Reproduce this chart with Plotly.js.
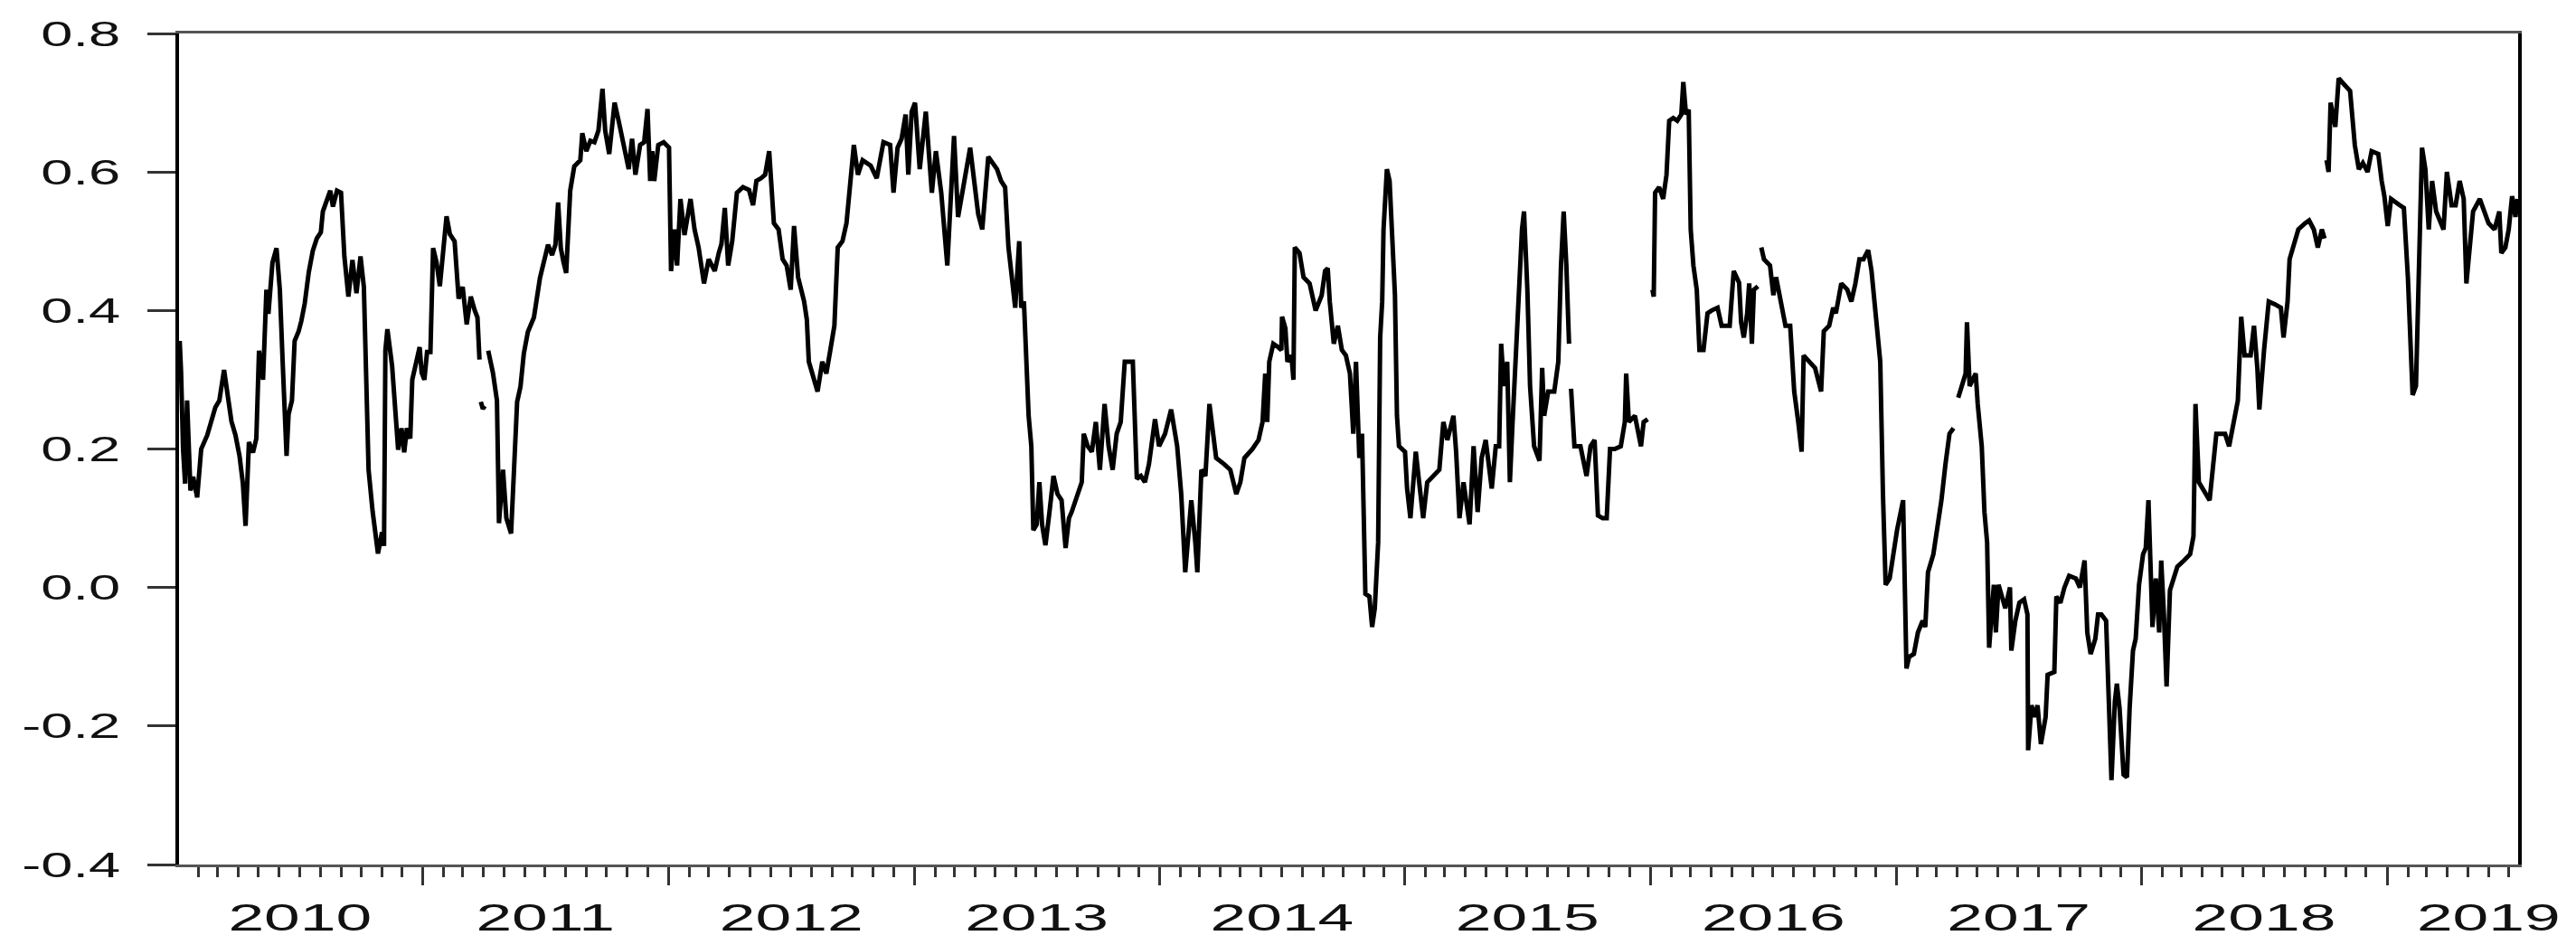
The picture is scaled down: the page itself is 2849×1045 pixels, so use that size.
<!DOCTYPE html>
<html>
<head>
<meta charset="utf-8">
<script src="https://cdn.plot.ly/plotly-3.0.1.min.js"></script>
<style>
html,body{margin:0;padding:0;background:#ffffff;}
#chart{width:2849px;height:1045px;}
</style>
</head>
<body>
<div id="chart"></div>
<script>
// ---- data: [date, value]; null marks a missing observation (gap in the line) ----
const obs2010 = [
["2010-01-04",0.356],["2010-01-06",0.312],["2010-01-09",0.200],["2010-01-12",0.150],["2010-01-15",0.270],
["2010-01-20",0.140],["2010-01-24",0.160],["2010-01-30",0.130],["2010-02-05",0.200],["2010-02-14",0.220],
["2010-02-26",0.260],["2010-03-04",0.270],["2010-03-11",0.314],["2010-03-16",0.280],["2010-03-22",0.240],
["2010-03-28",0.220],["2010-04-03",0.190],["2010-04-08",0.150],["2010-04-12",0.089],["2010-04-17",0.210],
["2010-04-23",0.195],["2010-04-28",0.215],["2010-05-02",0.342],["2010-05-08",0.300],["2010-05-13",0.430],
["2010-05-16",0.395],["2010-05-22",0.469],["2010-05-28",0.490],["2010-06-02",0.430],["2010-06-06",0.330],
["2010-06-09",0.273],["2010-06-12",0.190],["2010-06-15",0.250],["2010-06-20",0.270],["2010-06-24",0.356],
["2010-06-30",0.370],["2010-07-04",0.385],["2010-07-09",0.410],["2010-07-15",0.455],["2010-07-21",0.486],
["2010-07-27",0.504],["2010-08-02",0.513],["2010-08-05",0.543],["2010-08-11",0.560],["2010-08-16",0.573],
["2010-08-20",0.550],["2010-08-26",0.573],["2010-09-01",0.570],["2010-09-06",0.478],["2010-09-12",0.420],
["2010-09-18",0.473],["2010-09-24",0.425],["2010-09-30",0.478],["2010-10-05",0.434],["2010-10-09",0.260],
["2010-10-12",0.170],["2010-10-18",0.110],["2010-10-26",0.049],["2010-11-01",0.080],["2010-11-04",0.060],
["2010-11-06",0.342],["2010-11-09",0.373],["2010-11-16",0.320],["2010-11-21",0.240],["2010-11-25",0.199],
["2010-11-30",0.230],["2010-12-04",0.195],["2010-12-08",0.230],["2010-12-13",0.215],["2010-12-16",0.300],
["2010-12-22",0.330],["2010-12-27",0.347],["2010-12-30",0.310]
];
const obs2011 = [
["2011-01-03",0.300],["2011-01-07",0.340],["2011-01-12",0.340],["2011-01-16",0.490],["2011-01-21",0.470],
["2011-01-26",0.435],["2011-01-30",0.480],["2011-02-05",0.536],["2011-02-10",0.510],["2011-02-17",0.500],
["2011-02-23",0.417],["2011-03-01",0.434],["2011-03-07",0.380],["2011-03-13",0.420],["2011-03-19",0.400],
["2011-03-23",0.390],["2011-03-26",0.329],["2011-03-27",null],["2011-03-28",0.268],["2011-03-31",0.258],
["2011-04-03",0.262],["2011-04-05",null],["2011-04-08",0.342],["2011-04-15",0.310],["2011-04-21",0.270],
["2011-04-24",0.093],["2011-04-30",0.170],["2011-05-05",0.100],["2011-05-12",0.078],["2011-05-17",0.200],
["2011-05-21",0.268],["2011-05-26",0.290],["2011-05-31",0.338],["2011-06-06",0.369],["2011-06-15",0.390],
["2011-06-24",0.447],["2011-06-30",0.473],["2011-07-06",0.495],["2011-07-12",0.480],["2011-07-17",0.495],
["2011-07-21",0.556],["2011-07-25",0.490],["2011-07-29",0.470],["2011-08-02",0.454],["2011-08-08",0.573],
["2011-08-14",0.608],["2011-08-23",0.617],["2011-08-26",0.656],["2011-09-01",0.630],["2011-09-07",0.645],
["2011-09-13",0.643],["2011-09-19",0.660],["2011-09-25",0.720],["2011-09-29",0.660],["2011-10-05",0.626],
["2011-10-10",0.680],["2011-10-13",0.700],["2011-10-19",0.674],["2011-10-27",0.640],["2011-11-03",0.604],
["2011-11-08",0.648],["2011-11-13",0.596],["2011-11-20",0.639],["2011-11-26",0.643],["2011-12-01",0.691],
["2011-12-05",0.587],["2011-12-08",0.630],["2011-12-11",0.587],["2011-12-17",0.639],["2011-12-25",0.643]
];
const obs2012 = [
["2012-01-02",0.635],["2012-01-05",0.457],["2012-01-10",0.517],["2012-01-14",0.465],["2012-01-19",0.561],
["2012-01-25",0.509],["2012-02-03",0.561],["2012-02-09",0.517],["2012-02-15",0.491],["2012-02-23",0.439],
["2012-03-01",0.474],["2012-03-10",0.457],["2012-03-16",0.483],["2012-03-20",0.496],["2012-03-25",0.548],
["2012-03-30",0.465],["2012-04-05",0.500],["2012-04-12",0.570],["2012-04-21",0.578],["2012-04-30",0.574],
["2012-05-06",0.552],["2012-05-11",0.587],["2012-05-18",0.591],["2012-05-24",0.596],["2012-05-30",0.630],
["2012-06-06",0.526],["2012-06-13",0.517],["2012-06-19",0.474],["2012-06-25",0.465],["2012-07-01",0.430],
["2012-07-06",0.522],["2012-07-12",0.448],["2012-07-21",0.413],["2012-07-25",0.387],["2012-07-28",0.326],
["2012-08-04",0.300],["2012-08-10",0.283],["2012-08-17",0.326],["2012-08-23",0.309],["2012-08-29",0.343],
["2012-09-04",0.378],["2012-09-09",0.491],["2012-09-16",0.500],["2012-09-22",0.526],["2012-09-28",0.596],
["2012-10-03",0.639],["2012-10-09",0.596],["2012-10-16",0.617],["2012-10-28",0.609],["2012-11-06",0.591],
["2012-11-16",0.643],["2012-11-26",0.639],["2012-12-01",0.570],["2012-12-07",0.635],["2012-12-13",0.648],
["2012-12-19",0.683],["2012-12-23",0.596],["2012-12-28",0.687]
];
const obs2013 = [
["2013-01-02",0.700],["2013-01-09",0.604],["2013-01-18",0.687],["2013-01-27",0.570],["2013-02-02",0.630],
["2013-02-10",0.570],["2013-02-19",0.465],["2013-02-23",0.535],["2013-03-01",0.652],["2013-03-07",0.535],
["2013-03-16",0.587],["2013-03-25",0.635],["2013-03-31",0.587],["2013-04-06",0.539],["2013-04-12",0.517],
["2013-04-21",0.622],["2013-05-04",0.604],["2013-05-10",0.587],["2013-05-16",0.578],["2013-05-21",0.491],
["2013-05-25",0.457],["2013-05-31",0.404],["2013-06-06",0.500],["2013-06-09",0.404],["2013-06-13",0.413],
["2013-06-16",0.326],["2013-06-20",0.248],["2013-06-24",0.204],["2013-06-27",0.083],["2013-07-02",0.091],
["2013-07-06",0.152],["2013-07-10",0.091],["2013-07-15",0.061],["2013-07-21",0.109],["2013-07-27",0.161],
["2013-08-02",0.135],["2013-08-08",0.126],["2013-08-14",0.057],["2013-08-19",0.100],["2013-08-23",0.109],
["2013-09-01",0.135],["2013-09-07",0.152],["2013-09-10",0.222],["2013-09-16",0.204],["2013-09-22",0.196],
["2013-09-28",0.239],["2013-10-04",0.170],["2013-10-11",0.265],["2013-10-17",0.204],["2013-10-23",0.170],
["2013-10-29",0.222],["2013-11-04",0.239],["2013-11-10",0.326],["2013-11-22",0.326],["2013-11-28",0.157],
["2013-12-04",0.161],["2013-12-10",0.152],["2013-12-16",0.178],["2013-12-25",0.243],["2013-12-31",0.204]
];
const obs2014 = [
["2014-01-09",0.222],["2014-01-18",0.257],["2014-01-27",0.204],["2014-02-02",0.135],["2014-02-08",0.022],
["2014-02-12",0.065],["2014-02-17",0.126],["2014-02-23",0.065],["2014-02-26",0.022],["2014-03-04",0.170],
["2014-03-10",0.161],["2014-03-16",0.265],["2014-03-21",0.222],["2014-03-26",0.187],["2014-04-07",0.178],
["2014-04-16",0.170],["2014-04-25",0.135],["2014-05-01",0.152],["2014-05-07",0.187],["2014-05-19",0.200],
["2014-05-28",0.213],["2014-06-03",0.239],["2014-06-07",0.309],["2014-06-10",0.239],["2014-06-13",0.326],
["2014-06-19",0.352],["2014-06-25",0.348],["2014-07-01",0.343],["2014-07-02",0.391],["2014-07-07",0.374],
["2014-07-10",0.326],["2014-07-16",0.335],["2014-07-19",0.300],["2014-07-21",0.491],["2014-07-28",0.483],
["2014-08-03",0.448],["2014-08-12",0.439],["2014-08-21",0.400],["2014-08-30",0.422],["2014-09-04",0.457],
["2014-09-08",0.461],["2014-09-11",0.413],["2014-09-17",0.352],["2014-09-23",0.378],["2014-09-29",0.343],
["2014-10-05",0.335],["2014-10-11",0.309],["2014-10-16",0.222],["2014-10-20",0.326],["2014-10-25",0.187],
["2014-10-29",0.222],["2014-11-03",-0.009],["2014-11-09",-0.013],["2014-11-13",-0.057],["2014-11-17",-0.030],
["2014-11-22",0.065],["2014-11-25",0.361],["2014-11-28",0.413],["2014-11-30",0.517],["2014-12-05",0.604],
["2014-12-09",0.587],["2014-12-13",0.496],["2014-12-17",0.422],["2014-12-20",0.248],["2014-12-23",0.204]
];
const obs2015 = [
["2015-01-01",0.196],["2015-01-04",0.143],["2015-01-09",0.100],["2015-01-13",0.152],["2015-01-17",0.196],
["2015-01-22",0.152],["2015-01-28",0.100],["2015-02-03",0.152],["2015-02-12",0.161],["2015-02-21",0.170],
["2015-02-27",0.239],["2015-03-05",0.213],["2015-03-14",0.248],["2015-03-18",0.196],["2015-03-23",0.100],
["2015-03-29",0.152],["2015-04-07",0.091],["2015-04-13",0.204],["2015-04-19",0.109],["2015-04-25",0.187],
["2015-05-01",0.213],["2015-05-10",0.143],["2015-05-16",0.204],["2015-05-21",0.204],["2015-05-24",0.352],
["2015-05-28",0.291],["2015-06-02",0.326],["2015-06-06",0.152],["2015-06-10",0.239],["2015-06-16",0.370],
["2015-06-20",0.430],["2015-06-24",0.517],["2015-06-27",0.543],["2015-07-02",0.430],["2015-07-06",0.291],
["2015-07-12",0.204],["2015-07-20",0.183],["2015-07-24",0.317],["2015-07-27",0.248],["2015-08-02",0.283],
["2015-08-11",0.283],["2015-08-17",0.326],["2015-08-21",0.465],["2015-08-25",0.543],["2015-08-29",0.465],
["2015-09-02",0.352],["2015-09-03",null],["2015-09-05",0.287],["2015-09-10",0.204],["2015-09-19",0.204],
["2015-09-28",0.161],["2015-10-04",0.204],["2015-10-10",0.213],["2015-10-15",0.104],["2015-10-22",0.100],
["2015-10-28",0.100],["2015-11-02",0.200],["2015-11-09",0.200],["2015-11-18",0.204],["2015-11-24",0.239],
["2015-11-26",0.309],["2015-11-30",0.239],["2015-12-09",0.248],["2015-12-18",0.204],["2015-12-22",0.239],
["2015-12-28",0.243],["2015-12-31",null]
];
const obs2016 = [
["2016-01-04",0.430],["2016-01-06",0.420],["2016-01-08",0.570],["2016-01-14",0.578],["2016-01-20",0.561],
["2016-01-25",0.596],["2016-01-29",0.674],["2016-02-04",0.678],["2016-02-10",0.674],["2016-02-16",0.683],
["2016-02-19",0.730],["2016-02-23",0.683],["2016-02-27",0.690],["2016-03-01",0.517],["2016-03-05",0.465],
["2016-03-10",0.430],["2016-03-14",0.343],["2016-03-20",0.343],["2016-03-26",0.396],["2016-04-01",0.400],
["2016-04-10",0.404],["2016-04-16",0.378],["2016-04-28",0.378],["2016-05-04",0.457],["2016-05-12",0.440],
["2016-05-15",0.383],["2016-05-19",0.361],["2016-05-24",0.396],["2016-05-27",0.439],["2016-05-31",0.352],
["2016-06-03",0.430],["2016-06-09",0.435],["2016-06-11",null],["2016-06-14",0.491],["2016-06-18",0.474],
["2016-06-27",0.465],["2016-07-02",0.422],["2016-07-06",0.448],["2016-07-15",0.404],["2016-07-20",0.378],
["2016-07-27",0.378],["2016-08-02",0.283],["2016-08-08",0.239],["2016-08-13",0.196],["2016-08-16",0.335],
["2016-08-24",0.326],["2016-09-02",0.317],["2016-09-11",0.283],["2016-09-15",0.370],["2016-09-23",0.378],
["2016-09-29",0.404],["2016-10-03",0.396],["2016-10-11",0.439],["2016-10-20",0.430],["2016-10-26",0.413],
["2016-11-01",0.439],["2016-11-07",0.474],["2016-11-13",0.474],["2016-11-20",0.487],["2016-11-25",0.457],
["2016-12-02",0.387],["2016-12-08",0.326],["2016-12-12",0.135],["2016-12-16",0.004],["2016-12-22",0.013],
["2016-12-28",0.057]
];
const obs2017 = [
["2017-01-02",0.083],["2017-01-11",0.126],["2017-01-13",0.030],["2017-01-16",-0.117],["2017-01-20",-0.100],
["2017-01-27",-0.096],["2017-02-02",-0.065],["2017-02-09",-0.048],["2017-02-13",-0.057],["2017-02-17",0.022],
["2017-02-25",0.048],["2017-03-03",0.083],["2017-03-09",0.126],["2017-03-15",0.178],["2017-03-21",0.222],
["2017-03-27",0.230],["2017-03-30",null],["2017-04-03",0.274],["2017-04-09",0.291],["2017-04-14",0.309],
["2017-04-16",0.383],["2017-04-20",0.291],["2017-04-29",0.309],["2017-05-02",0.265],["2017-05-08",0.204],
["2017-05-12",0.109],["2017-05-16",0.065],["2017-05-19",-0.087],["2017-05-26",0.004],["2017-05-29",-0.065],
["2017-06-02",0.004],["2017-06-07",-0.013],["2017-06-12",-0.030],["2017-06-19",0.000],["2017-06-21",-0.091],
["2017-06-27",-0.048],["2017-07-03",-0.022],["2017-07-10",-0.017],["2017-07-15",-0.039],["2017-07-16",-0.235],
["2017-07-21",-0.170],["2017-07-26",-0.187],["2017-07-30",-0.170],["2017-08-04",-0.226],["2017-08-11",-0.187],
["2017-08-14",-0.126],["2017-08-24",-0.122],["2017-08-27",-0.013],["2017-09-02",-0.022],["2017-09-08",0.000],
["2017-09-15",0.017],["2017-09-25",0.013],["2017-10-01",0.000],["2017-10-08",0.039],["2017-10-12",-0.065],
["2017-10-17",-0.096],["2017-10-24",-0.074],["2017-10-28",-0.039],["2017-11-02",-0.039],["2017-11-09",-0.048],
["2017-11-13",-0.161],["2017-11-17",-0.278],["2017-11-22",-0.165],["2017-11-25",-0.139],["2017-11-29",-0.174],
["2017-12-05",-0.270],["2017-12-10",-0.274],["2017-12-14",-0.174],["2017-12-19",-0.091],["2017-12-23",-0.074],
["2017-12-28",0.004]
];
const obs2018 = [
["2018-01-03",0.048],["2018-01-07",0.057],["2018-01-11",0.126],["2018-01-17",-0.057],["2018-01-22",0.013],
["2018-01-27",-0.065],["2018-01-30",0.039],["2018-02-03",-0.039],["2018-02-07",-0.143],["2018-02-12",-0.004],
["2018-02-17",0.013],["2018-02-23",0.030],["2018-03-05",0.039],["2018-03-14",0.048],["2018-03-19",0.074],
["2018-03-22",0.265],["2018-03-27",0.152],["2018-04-02",0.143],["2018-04-12",0.126],["2018-04-22",0.222],
["2018-05-05",0.222],["2018-05-11",0.204],["2018-05-18",0.239],["2018-05-24",0.270],["2018-05-29",0.391],
["2018-06-03",0.335],["2018-06-12",0.335],["2018-06-17",0.378],["2018-06-22",0.317],["2018-06-25",0.257],
["2018-07-02",0.343],["2018-07-09",0.413],["2018-07-18",0.409],["2018-07-27",0.404],["2018-07-31",0.361],
["2018-08-06",0.413],["2018-08-09",0.474],["2018-08-16",0.500],["2018-08-22",0.517],["2018-09-01",0.526],
["2018-09-07",0.530],["2018-09-14",0.517],["2018-09-20",0.491],["2018-09-26",0.517],["2018-09-30",0.504],
["2018-10-01",null],["2018-10-03",0.617],["2018-10-06",0.600],["2018-10-09",0.700],["2018-10-16",0.665],
["2018-10-21",0.735],["2018-10-29",0.726],["2018-11-07",0.717],["2018-11-14",0.639],["2018-11-20",0.604],
["2018-11-26",0.613],["2018-12-03",0.600],["2018-12-09",0.630],["2018-12-19",0.626],["2018-12-24",0.587],
["2018-12-28",0.565]
];
const obs2019 = [
["2019-01-02",0.522],["2019-01-07",0.561],["2019-01-20",0.552],["2019-01-26",0.548],["2019-02-01",0.448],
["2019-02-05",0.326],["2019-02-08",0.278],["2019-02-13",0.291],["2019-02-18",0.500],["2019-02-22",0.635],
["2019-02-27",0.604],["2019-03-04",0.517],["2019-03-09",0.587],["2019-03-15",0.543],["2019-03-26",0.517],
["2019-03-31",0.600],["2019-04-07",0.552],["2019-04-13",0.552],["2019-04-19",0.587],["2019-04-25",0.561],
["2019-04-29",0.439],["2019-05-04",0.500],["2019-05-09",0.543],["2019-05-19",0.561],["2019-05-25",0.543],
["2019-06-01",0.526],["2019-06-10",0.517],["2019-06-17",0.543],["2019-06-20",0.483],["2019-06-26",0.491],
["2019-07-01",0.517],["2019-07-06",0.565],["2019-07-11",0.535],["2019-07-14",0.561]
];

// ---- axes: ticks and labels ----
const yTickVals = [-0.4, -0.2, 0.0, 0.2, 0.4, 0.6, 0.8];
const yTickText = ["-0.4", "-0.2", "0.0", "0.2", "0.4", "0.6", "0.8"];
const yearLabels = ["2010","2011","2012","2013","2014","2015","2016","2017","2018","2019"];
const yearLabelDates = ["2010-07-02","2011-07-02","2012-07-02","2013-07-02","2014-07-02",
                        "2015-07-02","2016-07-02","2017-07-02","2018-07-02","2019-06-01"];
const xRange = ["2010-01-03", "2019-07-15"];
const yRange = [-0.4, 0.8];

// ---- build ----
const series = [].concat(obs2010, obs2011, obs2012, obs2013, obs2014,
                         obs2015, obs2016, obs2017, obs2018, obs2019);
const xs = series.map(p => p[0]);
const ys = series.map(p => p[1]);

const FONT = '"Liberation Sans", Arial, Helvetica, sans-serif';

const traces = [
  {
    x: xs, y: ys, type: 'scatter', mode: 'lines',
    line: {color: '#000000', width: 5},
    connectgaps: false, hoverinfo: 'skip', showlegend: false
  },
  {
    x: yearLabelDates, y: yearLabelDates.map(() => null),
    xaxis: 'x2', yaxis: 'y', type: 'scatter', mode: 'lines',
    hoverinfo: 'skip', showlegend: false
  }
];

const layout = {
  width: 2849, height: 1045,
  margin: {l: 198, r: 64, t: 37, b: 89, pad: 0},
  paper_bgcolor: '#ffffff', plot_bgcolor: '#ffffff',
  showlegend: false,
  font: {family: FONT, color: '#111111', size: 40},
  xaxis: {
    type: 'date', range: xRange,
    showgrid: false, zeroline: false,
    showline: true, linecolor: '#555555', linewidth: 3, mirror: true,
    ticks: 'outside', tick0: '2011-01-01', dtick: 'M12',
    ticklen: 20, tickwidth: 3, tickcolor: '#333333',
    showticklabels: false,
    minor: {ticks: 'outside', dtick: 'M1', tick0: '2010-01-01',
            ticklen: 11, tickwidth: 3, tickcolor: '#333333', showgrid: false}
  },
  xaxis2: {
    type: 'date', range: xRange, overlaying: 'x', anchor: 'y', side: 'bottom',
    showgrid: false, zeroline: false, showline: false, ticks: '',
    tickmode: 'array', tickvals: yearLabelDates, ticktext: yearLabels,
    tickfont: {family: FONT, size: 42, color: '#111111'},
    ticklabelstandoff: 30
  },
  yaxis: {
    range: yRange,
    tickmode: 'array', tickvals: yTickVals, ticktext: yTickText,
    showgrid: false, zeroline: false,
    showline: true, linecolor: '#000000', linewidth: 4, mirror: true,
    ticks: 'outside', ticklen: 31, tickwidth: 3, tickcolor: '#333333',
    tickfont: {family: FONT, size: 39, color: '#111111'},
    ticklabelstandoff: 22
  }
};

// widen tick label glyphs horizontally (the reference text is horizontally stretched)
function stretch(selector, s, mode) {
  document.querySelectorAll(selector).forEach(el => {
    const bb = el.getBBox();
    const cx = mode === 'right' ? bb.x + bb.width : bb.x + bb.width / 2;
    const t = el.getAttribute('transform') || '';
    el.setAttribute('transform',
      t + ' translate(' + cx + ',0) scale(' + s + ',1) translate(' + (-cx) + ',0)');
  });
}

Plotly.newPlot('chart', traces, layout, {staticPlot: true, displayModeBar: false})
  .then(() => {
    stretch('#chart .ytick text', 1.62, 'right');
    stretch('#chart .x2tick text', 1.7, 'center');
  });
</script>
</body>
</html>
